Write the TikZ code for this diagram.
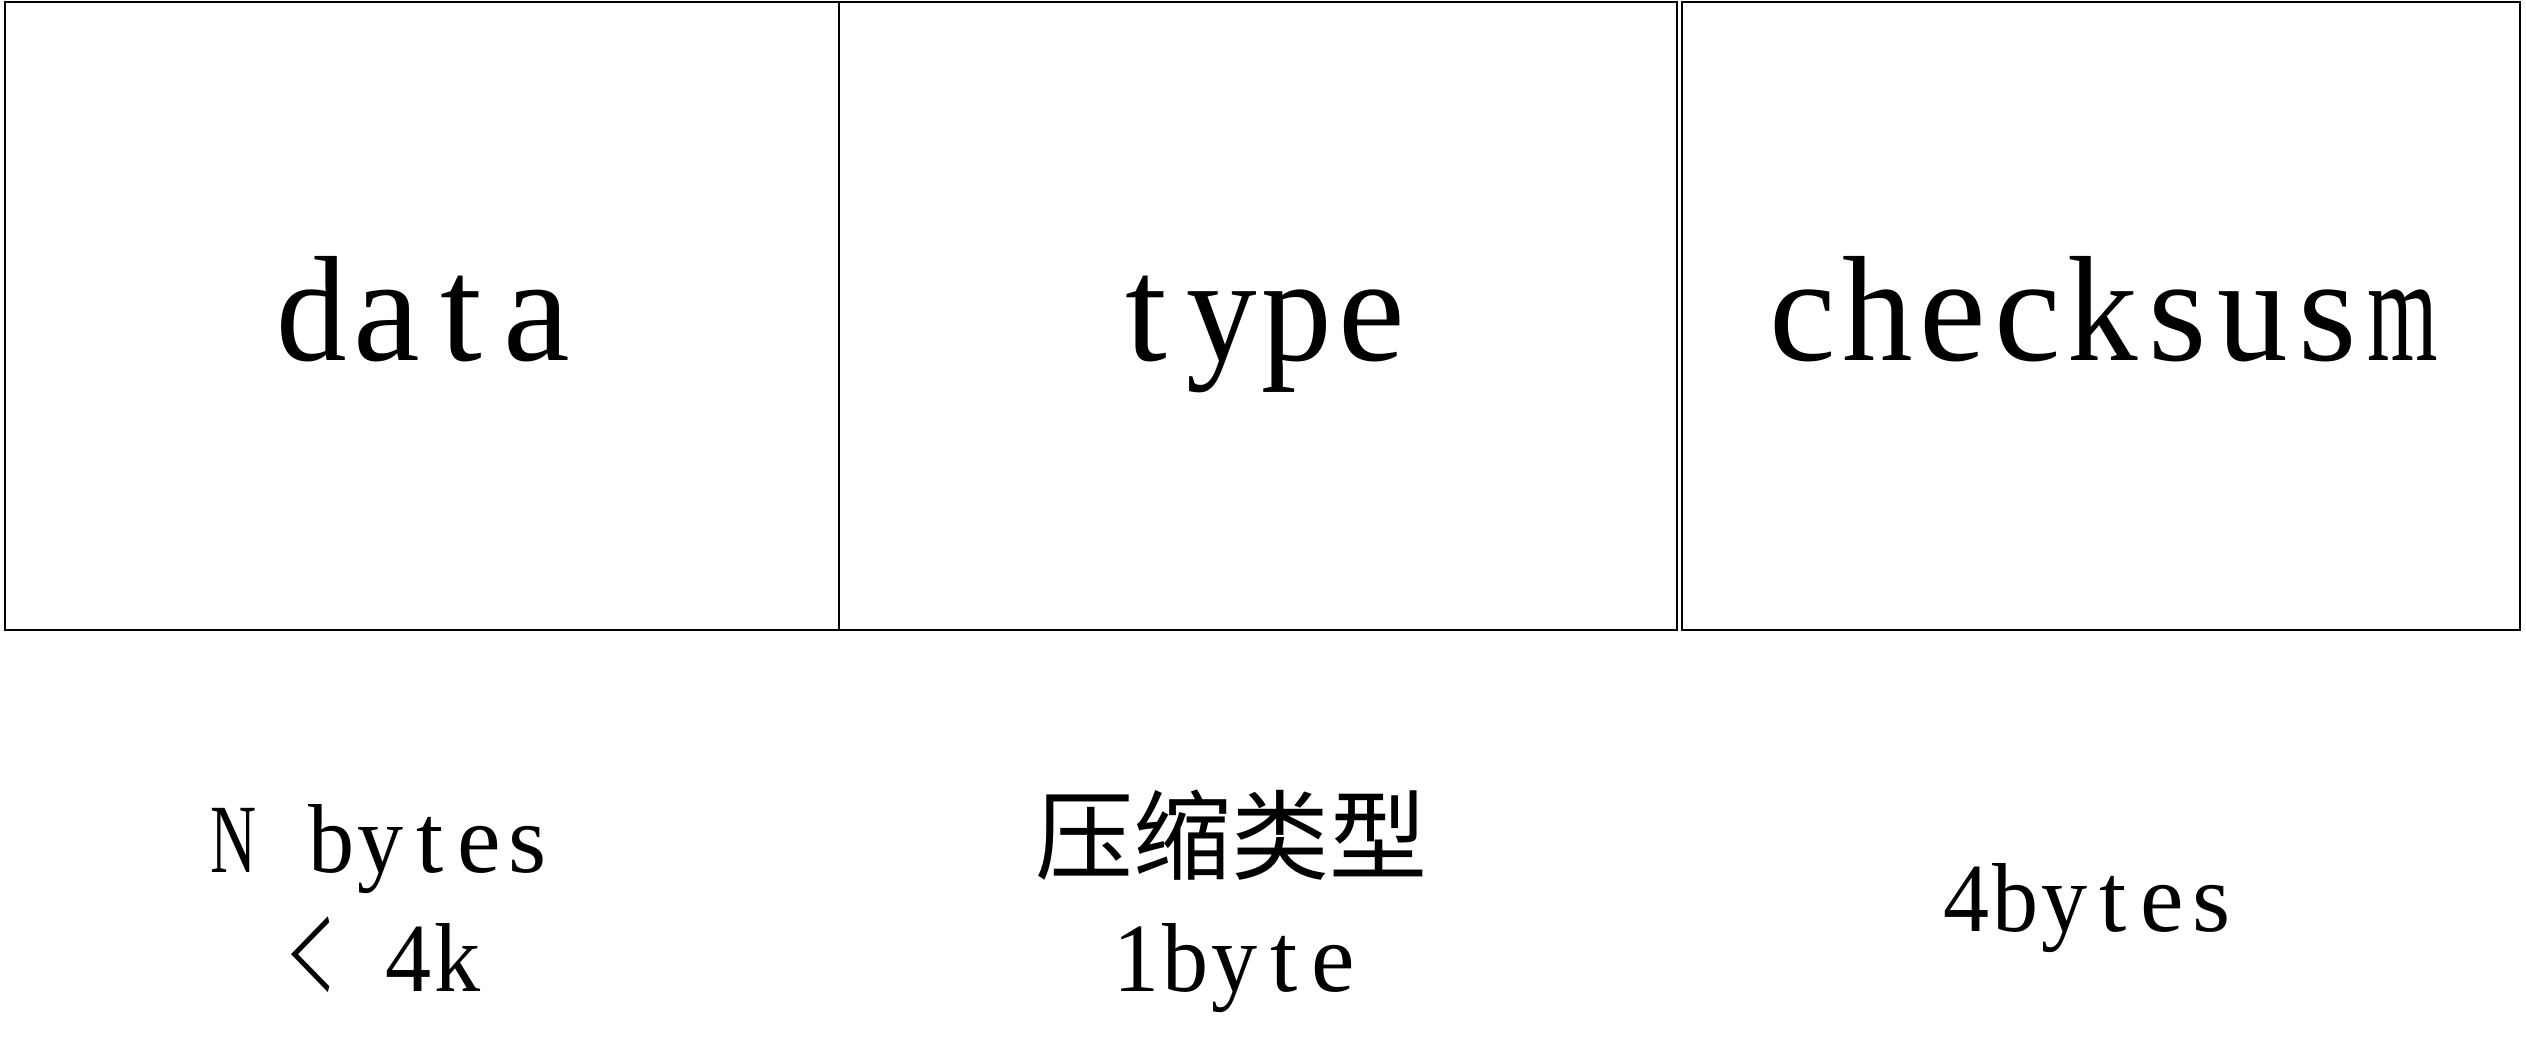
\documentclass[tikz,border=0pt]{standalone}
\usepackage{graphicx}
\usepackage{fontspec}
\setmainfont{Liberation Serif}
\newfontfamily\cjk{Noto Sans CJK SC}
\newsavebox\monobox
\newcommand\monochar[1]{\sbox\monobox{#1}\ifdim\wd\monobox>0.47em\makebox[0.5em]{\resizebox{0.47em}{\height}{#1}}\else\makebox[0.5em]{#1}\fi}
\def\mono#1{\monoaux#1\relax}
\def\monoaux#1{\ifx#1\relax\else\monochar{#1}\expandafter\monoaux\fi}
\begin{document}
\begin{tikzpicture}[x=1pt,y=1pt,
  field/.style={draw=black, line width=2pt, rectangle, inner sep=0pt, minimum height=628pt},
  bigtxt/.style={anchor=base, inner sep=0pt, font=\fontsize{150}{150}\selectfont},
  smalltxt/.style={anchor=base, inner sep=0pt, font=\fontsize{98}{98}\selectfont}]
\useasboundingbox (0,0) rectangle (2526,1059);
\node[field, minimum width=834pt] (f1) at (422,743) {};
\node[field, minimum width=838pt] (f2) at (1258,743) {};
\node[field, minimum width=838pt] (f3) at (2101,743) {};
\node[bigtxt] (t1) at (424,698) {\mono{data}};
\node[bigtxt] (t2) at (1259,698) {\mono{type}};
\node[bigtxt] (t3) at (2103,698) {\mono{checksusm}};
\node[smalltxt] (l1a) at (381,186) {\mono{N~bytes}};
\node[smalltxt] (l1b) at (384,67) {\makebox[0.5em]{\scalebox{0.5}[1]{\cjk ＜}}\mono{~4k}};
\node[smalltxt] (l2a) at (1231,186) {\cjk 压缩类型};
\node[smalltxt] (l2b) at (1235,67) {\mono{1byte}};
\node[smalltxt] (l3) at (2089,127) {\mono{4bytes}};
\end{tikzpicture}
\end{document}
